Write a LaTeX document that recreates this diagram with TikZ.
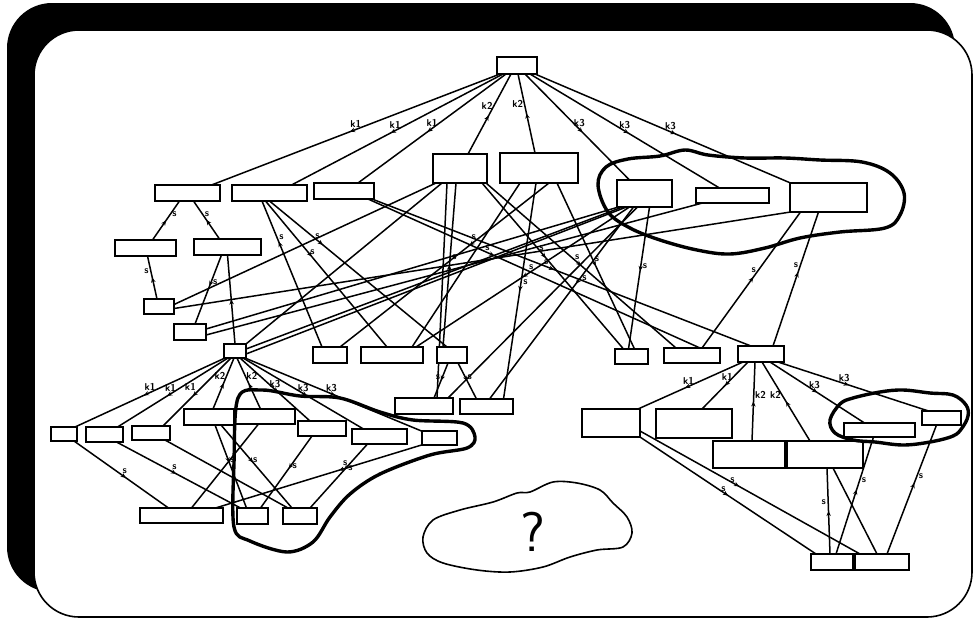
\documentclass[tikz,border=0pt]{standalone}
\usetikzlibrary{arrows.meta,decorations.markings}
\tikzset{
 bx/.style={draw,line width=2pt,fill=white,inner sep=0pt,outer sep=0pt},
 ed/.style={line width=1.5pt},
 lb/.style={font=\sffamily\bfseries\fontsize{10}{10}\selectfont,inner sep=0.5pt},
 mk/.style={postaction={decorate,decoration={markings,mark=at position #1 with {\arrow{Stealth[length=5pt,width=4.5pt]}}}}},
 mkr/.style={postaction={decorate,decoration={markings,mark=at position #1 with {\arrowreversed{Stealth[length=5pt,width=4.5pt]}}}}},
 cld/.style={line width=3.4pt,line join=round},
 thincld/.style={line width=1.6pt,line join=round},
}
\begin{document}
\begin{tikzpicture}[x=1pt,y=-1pt]
\useasboundingbox (0,0) rectangle (974,619);
% frame
\fill[black,rounded corners=45pt] (7,3) rectangle (955,592);
\draw[fill=white,line width=1.6pt,rounded corners=45pt] (34,30) rectangle (972,617);

% boxes (placed now, drawn again on top later)
\path
 node[bx,minimum width=40pt,minimum height=17pt] (R) at (517,65.5) {}
 node[bx,minimum width=65pt,minimum height=16pt] (A1) at (187.5,193) {}
 node[bx,minimum width=75pt,minimum height=16pt] (A2) at (269.5,193) {}
 node[bx,minimum width=60pt,minimum height=16pt] (A3) at (344,191) {}
 node[bx,minimum width=54pt,minimum height=29pt] (B1) at (460,168.5) {}
 node[bx,minimum width=78pt,minimum height=30pt] (B2) at (539,168) {}
 node[bx,minimum width=55pt,minimum height=27pt] (C1) at (644.5,193.5) {}
 node[bx,minimum width=73pt,minimum height=15pt] (C2) at (732.5,195.5) {}
 node[bx,minimum width=77pt,minimum height=29pt] (C3) at (828.5,197.5) {}
 node[bx,minimum width=61pt,minimum height=16pt] (D1) at (145.5,248) {}
 node[bx,minimum width=67pt,minimum height=16pt] (D2) at (227.5,247) {}
 node[bx,minimum width=30pt,minimum height=15pt] (E1) at (159,306.5) {}
 node[bx,minimum width=32pt,minimum height=16pt] (E2) at (190,332) {}
 node[bx,minimum width=22pt,minimum height=14pt] (F) at (235,351) {}
 node[bx,minimum width=34pt,minimum height=16pt] (G1) at (330,355) {}
 node[bx,minimum width=62pt,minimum height=16pt] (G2) at (392,355) {}
 node[bx,minimum width=30pt,minimum height=16pt] (G3) at (452,355) {}
 node[bx,minimum width=33pt,minimum height=15pt] (H1) at (631.5,356.5) {}
 node[bx,minimum width=56pt,minimum height=15pt] (H2) at (692,355.5) {}
 node[bx,minimum width=46pt,minimum height=16pt] (H3) at (761,354) {}
 node[bx,minimum width=58pt,minimum height=16pt] (N1) at (424,406) {}
 node[bx,minimum width=53pt,minimum height=15pt] (N2) at (486.5,406.5) {}
 node[bx,minimum width=26pt,minimum height=14pt] (L1) at (64,434) {}
 node[bx,minimum width=37pt,minimum height=15pt] (L2) at (104.5,434.5) {}
 node[bx,minimum width=38pt,minimum height=14pt] (L3) at (151,433) {}
 node[bx,minimum width=50pt,minimum height=16pt] (L4) at (209,417) {}
 node[bx,minimum width=61pt,minimum height=15pt] (L5) at (264.5,416.5) {}
 node[bx,minimum width=48pt,minimum height=15pt] (L6) at (322,428.5) {}
 node[bx,minimum width=55pt,minimum height=15pt] (L7) at (379.5,436.5) {}
 node[bx,minimum width=35pt,minimum height=14pt] (L8) at (439.5,438) {}
 node[bx,minimum width=83pt,minimum height=15pt] (M1) at (181.5,515.5) {}
 node[bx,minimum width=31pt,minimum height=16pt] (M2) at (252.5,516) {}
 node[bx,minimum width=34pt,minimum height=16pt] (M3) at (300,516) {}
 node[bx,minimum width=58pt,minimum height=28pt] (P1) at (611,423) {}
 node[bx,minimum width=76pt,minimum height=29pt] (P2) at (694,423.5) {}
 node[bx,minimum width=72pt,minimum height=27pt] (P3) at (749,454.5) {}
 node[bx,minimum width=76pt,minimum height=27pt] (P4) at (825,454.5) {}
 node[bx,minimum width=71pt,minimum height=14pt] (P5) at (879.5,430) {}
 node[bx,minimum width=39pt,minimum height=14pt] (P6) at (941.5,418) {}
 node[bx,minimum width=42pt,minimum height=16pt] (Q1) at (832,562) {}
 node[bx,minimum width=54pt,minimum height=16pt] (Q2) at (882,562) {};

% ---- root edges
\draw[ed,mk=.52] ([xshift=-17pt]R.south) -- node[lb,pos=.5,above=1pt]{k1} ([xshift=24pt]A1.north);
\draw[ed,mk=.53] ([xshift=-14pt]R.south) -- node[lb,pos=.51,above=1pt]{k1} ([xshift=22pt]A2.north);
\draw[ed,mk=.53] ([xshift=-11pt]R.south) -- node[lb,pos=.5,above=1pt]{k1} ([xshift=14pt]A3.north);
\draw[ed,mkr=.52] ([xshift=-6pt]R.south) -- node[lb,pos=.4,left=0pt]{k2} ([xshift=8pt]B1.north);
\draw[ed,mkr=.5] ([xshift=1pt]R.south) -- node[lb,pos=.38,left=0pt]{k2} ([xshift=-4pt]B2.north);
\draw[ed,mk=.55] ([xshift=8pt]R.south) -- node[lb,pos=.52,above=1pt]{k3} ([xshift=-15pt]C1.north);
\draw[ed,mk=.52] ([xshift=13pt]R.south) -- node[lb,pos=.5,above=1pt]{k3} ([xshift=-13pt]C2.north);
\draw[ed,mk=.55] ([xshift=18pt]R.south) -- node[lb,pos=.53,above=1pt]{k3} ([xshift=-38pt]C3.north);

% ---- upper left small tree
\draw[ed,mkr=.5] ([xshift=-8pt]A1.south) -- node[lb,pos=.35,right=1pt]{s} ([xshift=7pt]D1.north);
\draw[ed,mkr=.5] ([xshift=6pt]A1.south) -- node[lb,pos=.35,right=1pt]{s} ([xshift=-8pt]D2.north);
\draw[ed,mkr=.5] ([xshift=2pt]D1.south) -- node[lb,pos=.35,left=1pt]{s} ([xshift=-2pt]E1.north);
\draw[ed,mk=.45] ([xshift=-6pt]D2.south) -- node[lb,pos=.4,right=1pt]{s} ([xshift=5pt]E2.north);
\draw[ed,mkr=.5] (D2.south) -- (F.north);

% ---- cross edges
\draw[ed] ([yshift=2pt]E1.east) -- ([xshift=-24pt]B1.south);
\draw[ed] ([yshift=-2pt]E1.east) -- ([xshift=-38pt]C3.south);
\draw[ed] ([yshift=3pt]E2.east) -- ([xshift=-26pt]C1.south);
\draw[ed] ([yshift=-3pt]E2.east) -- ([xshift=-30pt]C2.south);
\draw[ed] (F.north east) -- ([xshift=-18pt]B1.south);
\draw[ed] ([yshift=2pt]F.east) -- ([xshift=-22pt]C1.south);
\draw[ed] ([yshift=-3pt]F.east) -- ([xshift=-18pt]C1.south);
\draw[ed,mkr=.28] ([xshift=-7.5pt]A2.south) -- node[lb,pos=.25,right=1pt]{s} ([xshift=-8pt]G1.north);
\draw[ed,mk=.38] ([xshift=-4pt]A2.south) -- node[lb,pos=.35,right=1pt]{s} ([xshift=-5pt]G2.north);
\draw[ed,mk=.3] ([xshift=0pt]A2.south) -- node[lb,pos=.27,above=1pt]{s} ([xshift=-5pt]G3.north);
\draw[ed,mk=.38] ([xshift=24pt]A3.south) -- node[lb,pos=.36,above=1pt]{s} ([xshift=8pt]H2.north);
\draw[ed,mk=.48] ([xshift=28pt]A3.south) -- node[lb,pos=.46,above=1pt]{s} ([xshift=-10pt]H3.north);
\draw[ed] ([xshift=-13pt]B1.south) -- ([xshift=13pt]N1.north);
\draw[ed,mkr=.5] ([xshift=-4pt]B1.south) -- node[lb,pos=.45,right=1pt]{s} ([xshift=-9pt]G3.north);
\draw[ed,mk=.45] ([xshift=22pt]B1.south) -- node[lb,pos=.42,above=1pt]{s} ([xshift=-8pt]H1.north);
\draw[ed,mk=.5] ([xshift=26pt]B1.south) -- node[lb,pos=.48,above=1pt]{s} ([xshift=-16pt]H2.north);
\draw[ed] ([xshift=-19pt]B2.south) -- ([xshift=20pt]G2.north);
\draw[ed,mk=.5] ([xshift=-3pt]B2.south) -- node[lb,pos=.46,right=1pt]{s} ([xshift=17pt]N2.north);
\draw[ed,mk=.38] ([xshift=10pt]B2.south) -- node[lb,pos=.36,above=1pt]{s} ([xshift=10pt]G1.north);
\draw[ed,mk=.5] ([xshift=18pt]B2.south) -- node[lb,pos=.46,right=1pt]{s} ([xshift=3pt]H1.north);
\draw[ed,mk=.5] ([xshift=-15pt]C1.south) -- node[lb,pos=.46,above=1pt]{s} ([xshift=24pt]G2.north);
\draw[ed,mk=.4] ([xshift=-11pt]C1.south) -- node[lb,pos=.37,right=1pt]{s} ([xshift=3pt]N2.north);
\draw[ed] ([xshift=-7pt]C1.south) -- ([xshift=24pt]N1.north);
\draw[ed,mk=.45] ([xshift=5pt]C1.south) -- node[lb,pos=.42,right=1pt]{s} ([xshift=-3pt]H1.north);
\draw[ed,mkr=.48] ([xshift=-28pt]C3.south) -- node[lb,pos=.43,left=1pt]{s} ([xshift=10pt]H2.north);
\draw[ed,mkr=.45] ([xshift=-10pt]C3.south) -- node[lb,pos=.4,left=1pt]{s} ([xshift=12pt]H3.north);
\draw[ed,mk=.5] ([xshift=-4pt]G3.south) -- node[lb,pos=.4,left=1pt]{s} ([xshift=10pt]N1.north);
\draw[ed,mk=.5] ([xshift=6pt]G3.south) -- node[lb,pos=.4,right=1pt]{s} ([xshift=-10pt]N2.north);

% ---- lower left cluster
\draw[ed,mk=.54] ([xshift=-10pt]F.south) -- node[lb,pos=.5,above=1pt]{k1} ([xshift=11pt]L1.north);
\draw[ed,mk=.55] ([xshift=-7pt]F.south) -- node[lb,pos=.52,above=1pt]{k1} ([xshift=13pt]L2.north);
\draw[ed,mk=.56] ([xshift=-4pt]F.south) -- node[lb,pos=.5,above left=0pt]{k1} ([xshift=12pt]L3.north);
\draw[ed,mkr=.5] ([xshift=-1pt]F.south) -- node[lb,pos=.35,left=0pt]{k2} ([xshift=4pt]L4.north);
\draw[ed,mkr=.5] ([xshift=2pt]F.south) -- node[lb,pos=.35,right=0pt]{k2} ([xshift=-4pt]L5.north);
\draw[ed,mk=.54] ([xshift=5pt]F.south) -- node[lb,pos=.5,above=1pt]{k3} ([xshift=-12pt]L6.north);
\draw[ed,mk=.53] ([xshift=8pt]F.south) -- node[lb,pos=.5,above=1pt]{k3} ([xshift=-16pt]L7.north);
\draw[ed,mk=.51] ([xshift=10pt]F.south) -- node[lb,pos=.49,above=1pt]{k3} ([xshift=-18pt]L8.north);
\draw[ed,mk=.55] ([xshift=10pt]L1.south) -- node[lb,pos=.5,above right=0pt]{s} ([xshift=-13pt]M1.north);
\draw[ed,mk=.48] ([xshift=12pt]L2.south) -- node[lb,pos=.44,above right=0pt]{s} ([xshift=-12pt]M2.north);
\draw[ed] ([xshift=14pt]L3.south) -- ([xshift=-12pt]M3.north);
\draw[ed,mk=.45] ([xshift=6pt]L4.south) -- node[lb,pos=.42,right=1pt]{s} ([xshift=-6pt]M2.north);
\draw[ed,mk=.45] ([xshift=12pt]L4.south) -- node[lb,pos=.42,right=1pt]{s} ([xshift=-8pt]M3.north);
\draw[ed] ([xshift=-6pt]L5.south) -- ([xshift=10pt]M1.north);
\draw[ed,mk=.45] ([xshift=-10pt]L6.south) -- node[lb,pos=.42,right=1pt]{s} ([xshift=8pt]M2.north);
\draw[ed,mk=.4] ([xshift=-12pt]L7.south) -- node[lb,pos=.37,right=1pt]{s} ([xshift=10pt]M3.north);
\draw[ed,mk=.4] ([xshift=-18pt]L8.south) -- node[lb,pos=.37,above=1pt]{s} ([xshift=34pt]M1.north);

% ---- lower right cluster
\draw[ed,mk=.55] ([xshift=-18pt]H3.south) -- node[lb,pos=.52,above=1pt]{k1} ([xshift=27pt]P1.north);
\draw[ed,mk=.5] ([xshift=-13pt]H3.south) -- node[lb,pos=.45,above=1pt]{k1} ([xshift=8pt]P2.north);
\draw[ed,mkr=.5] ([xshift=-6pt]H3.south) -- node[lb,pos=.42,right=0pt]{k2} ([xshift=3pt]P3.north);
\draw[ed,mkr=.5] ([xshift=1pt]H3.south) -- node[lb,pos=.42,left=0pt]{k2} ([xshift=-15pt]P4.north);
\draw[ed,mk=.5] ([xshift=9pt]H3.south) -- node[lb,pos=.47,above=1pt]{k3} ([xshift=-15pt]P5.north);
\draw[ed,mk=.47] ([xshift=17pt]H3.south) -- node[lb,pos=.44,above=1pt]{k3} ([xshift=-13pt]P6.north);
\draw[ed,mk=.5] (P1.south east) -- node[lb,pos=.45,right=1pt]{s} ([xshift=-16pt]Q1.north);
\draw[ed,mk=.45] ([yshift=6pt]P1.south east) -- node[lb,pos=.4,right=1pt]{s} ([xshift=-22pt]Q2.north);
\draw[ed,mkr=.5] ([xshift=2pt]P4.south) -- node[lb,pos=.4,left=1pt]{s} ([xshift=-2pt]Q1.north);
\draw[ed] ([xshift=8pt]P4.south) -- ([xshift=-5pt]Q2.north);
\draw[ed,mkr=.45] ([xshift=-6pt]P5.south) -- node[lb,pos=.37,right=1pt]{s} ([xshift=4pt]Q1.north);
\draw[ed,mkr=.45] ([xshift=-5pt]P6.south) -- node[lb,pos=.4,right=1pt]{s} ([xshift=5pt]Q2.north);

% ---- boxes on top
\foreach \n in {R,A1,A2,A3,B1,B2,C1,C2,C3,D1,D2,E1,E2,F,G1,G2,G3,H1,H2,H3,N1,N2,L1,L2,L3,L4,L5,L6,L7,L8,M1,M2,M3,P1,P2,P3,P4,P5,P6,Q1,Q2}
  \draw[line width=2pt,fill=white] (\n.south west) rectangle (\n.north east);

% ---- clouds
\draw[cld] plot[smooth cycle,tension=0.6] coordinates {
 (598,185) (606,167) (628,159) (660,156) (685,150) (708,155) (745,158)
 (785,158) (820,160) (862,162) (890,173) (904,193) (900,215) (885,228)
 (840,232) (800,238) (765,248) (730,254) (697,250) (660,240) (630,228) (608,212)};
\draw[cld] plot[smooth cycle,tension=0.55] coordinates {
 (238,398) (262,390) (300,396) (340,398) (380,412) (413,420) (463,423)
 (475,437) (467,448) (430,455) (380,474) (350,494) (330,517) (313,542)
 (287,552) (250,541) (234,527) (234,463)};
\draw[cld] plot[smooth cycle,tension=0.6] coordinates {
 (830,420) (840,404) (853,398) (880,392) (903,390) (930,393) (953,395)
 (966,405) (968,416) (962,428) (953,436) (930,442) (903,445) (875,442)
 (853,440) (835,433)};
\draw[thincld] plot[smooth cycle,tension=0.55] coordinates {
 (423,537) (433,520) (460,510) (493,502) (517,493) (530,492) (553,482)
 (577,483) (600,490) (613,503) (627,517) (632,533) (623,547) (597,550)
 (570,557) (543,567) (510,572) (477,570) (443,563) (427,553)};
\node[font=\sffamily\fontsize{56}{56}\selectfont,inner sep=0pt] (qm) at (533,532) {?};
\end{tikzpicture}
\end{document}
